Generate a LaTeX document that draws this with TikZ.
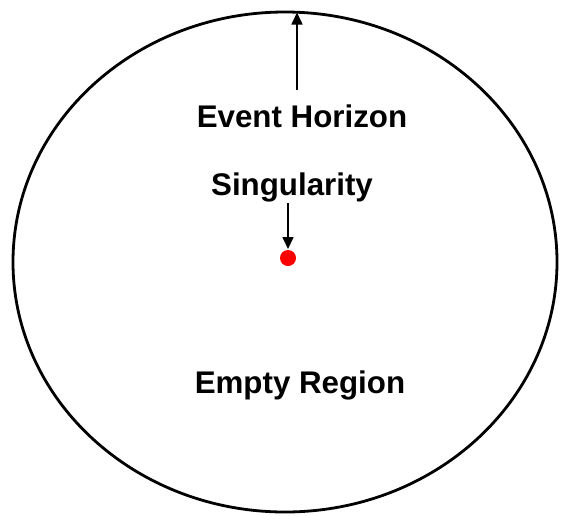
\documentclass[tikz,border=0pt]{standalone}
\usepackage{fontspec}
\setmainfont{Liberation Sans}
\usetikzlibrary{arrows.meta}
\tikzset{
  lbl/.style={font=\fontsize{31.3}{33}\selectfont\bfseries, anchor=base, inner sep=0pt},
  arr/.style={line width=1.6pt, -{Triangle[length=12pt,width=11pt]}},
}
\begin{document}
\begin{tikzpicture}[x=1pt,y=-1pt]
\useasboundingbox (0,0) rectangle (567,515);
\draw[line width=2.8pt] (285,262) ellipse [x radius=272, y radius=250];
\coordinate (top) at (297,12.5);
\node[lbl] (eh) at (302,127) {Event Horizon};
\node[lbl] (sg) at (292,195) {Singularity};
\node[lbl] (er) at (300,393) {Empty Region};
\fill[red] (288,258) circle (8) coordinate (dot);
\coordinate (ehs) at (297,90);
\coordinate (sgs) at (288,203);
\coordinate (sge) at (288,249);
\draw[arr] (ehs) -- (top);
\draw[arr] (sgs) -- (sge);
\end{tikzpicture}
\end{document}
